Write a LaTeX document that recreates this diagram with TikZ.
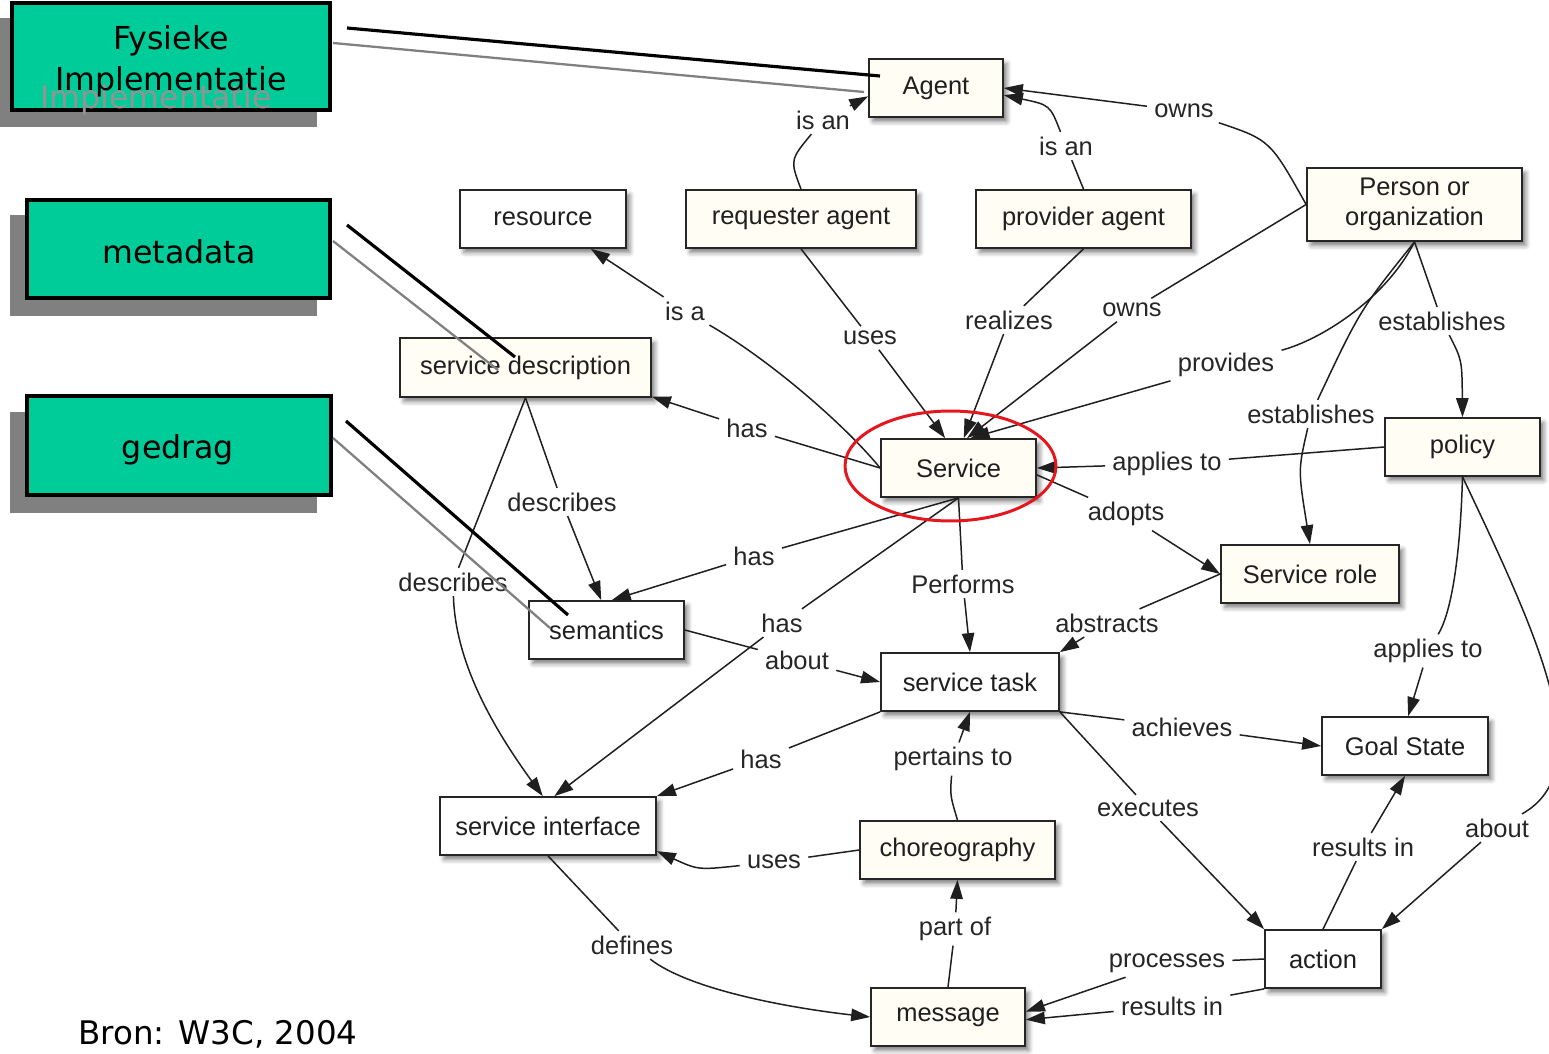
\documentclass[tikz,border=0pt]{standalone}
\usepackage{fontspec}
\setmainfont{Liberation Sans}
\newfontfamily\gfont{DejaVu Sans}
\usetikzlibrary{arrows.meta,shadows.blur,shapes.geometric}
\definecolor{cream}{RGB}{255,253,244}
\definecolor{mint}{RGB}{0,204,153}
\definecolor{shadowgray}{RGB}{128,128,128}
\definecolor{ringred}{RGB}{228,22,30}
\begin{document}
\begin{tikzpicture}[x=0.02cm,y=-0.02cm,
  box/.style={draw=black!85, line width=1pt, fill=#1, inner sep=0pt, align=center,
     font=\fontsize{14.5}{17}\selectfont, text=black!88,
     blur shadow={shadow xshift=2.2pt, shadow yshift=-2.6pt, shadow blur radius=2.6pt, shadow opacity=50}},
  box/.default=white,
  cbox/.style={box=cream},
  lab/.style={font=\fontsize{14.5}{17}\selectfont, text=black!85, inner xsep=4pt, inner ysep=2.5pt},
  ed/.style={draw=black!88, line width=0.85pt},
  ar/.style={ed, -{Triangle[length=0.38cm,width=0.25cm]}},
  gbox/.style={draw=black, line width=1.9pt, fill=mint, inner sep=0pt},
  gtxt/.style={font=\gfont\fontsize{18}{23.2}\selectfont, align=center, inner sep=0pt},
  blk/.style={draw=black, line width=1.8pt},
  gry/.style={draw=shadowgray, line width=1.3pt}
]
\useasboundingbox (0,0) rectangle (1549,1054);

% ---------- concept boxes ----------
\node[cbox, minimum width=2.68cm, minimum height=1.16cm] (agent) at (936,88) {Agent};
\node[box, minimum width=3.32cm, minimum height=1.16cm] (resource) at (543,219) {resource};
\node[cbox, minimum width=4.6cm, minimum height=1.16cm] (req) at (801,219) {requester agent};
\node[cbox, minimum width=4.3cm, minimum height=1.16cm] (prov) at (1083.5,219) {provider agent};
\node[cbox, minimum width=4.3cm, minimum height=1.46cm] (person) at (1414.5,204.5) {Person or\\organization};
\node[cbox, minimum width=5.02cm, minimum height=1.18cm] (sdesc) at (525.5,367.5) {service description};
\node[cbox, minimum width=3.1cm, minimum height=1.16cm] (service) at (958.5,468) {Service};
\node[cbox, minimum width=3.1cm, minimum height=1.16cm] (policy) at (1462.5,447) {policy};
\node[cbox, minimum width=3.56cm, minimum height=1.16cm] (srole) at (1310,574) {Service role};
\node[box, minimum width=3.1cm, minimum height=1.16cm] (sem) at (606.5,630) {semantics};
\node[box, minimum width=3.56cm, minimum height=1.16cm] (stask) at (970,682) {service task};
\node[box, minimum width=3.32cm, minimum height=1.16cm] (goal) at (1405,746) {Goal State};
\node[box, minimum width=4.32cm, minimum height=1.16cm] (sint) at (548,826) {service interface};
\node[cbox, minimum width=3.9cm, minimum height=1.16cm] (chor) at (957.5,850) {choreography};
\node[box, minimum width=2.32cm, minimum height=1.16cm] (action) at (1323,959) {action};
\node[cbox, minimum width=3.08cm, minimum height=1.16cm] (msg) at (948,1017) {message};

% ---------- connector labels ----------
\node[lab] (isan1) at (823,120) {is an};
\node[lab] (isan2) at (1066,146) {is an};
\node[lab] (owns1) at (1184,111) {owns};
\node[lab] (uses1) at (870,338) {uses};
\node[lab] (realizes) at (1009,320) {realizes};
\node[lab] (owns2) at (1132,310) {owns};
\node[lab] (provides) at (1226,365) {provides};
\node[lab] (estab1) at (1442,321) {establishes};
\node[lab] (estab2) at (1311,414) {establishes};
\node[lab] (isa) at (685,311) {is a};
\node[lab] (has1) at (747,428) {has};
\node[lab] (has2) at (754,556) {has};
\node[lab] (has3) at (782,623) {has};
\node[lab] (performs) at (963,584) {Performs};
\node[lab] (adopts) at (1126,514) {adopts};
\node[lab] (applies1) at (1167,464) {applies to};
\node[lab] (describes1) at (562,502) {describes};
\node[lab] (describes2) at (453,582) {describes};
\node[lab] (about1) at (797,660) {about};
\node[lab] (abstracts) at (1107,623) {abstracts};
\node[lab] (achieves) at (1182,727) {achieves};
\node[lab] (executes) at (1148,808) {executes};
\node[lab] (has4) at (761,759) {has};
\node[lab] (pertains) at (953,759) {pertains to};
\node[lab] (uses2) at (774,862) {uses};
\node[lab] (partof) at (955,929) {part of};
\node[lab] (defines) at (632,945) {defines};
\node[lab] (processes) at (1167,963) {processes};
\node[lab] (resultsA) at (1172,1006) {results in};
\node[lab] (resultsB) at (1363,847) {results in};
\node[lab] (applies2) at (1428,651) {applies to};
\node[lab] (about2) at (1497,828) {about};

% ---------- connectors ----------
\draw[ar] (req.north) .. controls (790,160) .. (isan1) -- (agent.187);
\draw[ar] (prov.north) -- (isan2) .. controls (1050,105) .. (agent.-6);
\draw[ar] (person.west) .. controls (1270,140) .. (owns1) -- (agent.east);
\draw[ar] (req.south) -- (uses1) -- (service.114);
\draw[ar] (prov.south) -- (realizes) -- (service.80);
\draw[ar] (person.west) -- (owns2) -- (service.74);
\draw[ar] (person.south) .. controls (1385,300) and (1320,340) .. (provides) -- (service.68);
\draw[ar] (person.south) -- (estab1) .. controls (1462,360) .. (policy.north);
\draw[ar] (person.south) .. controls (1360,310) .. (estab2) .. controls (1298,470) .. (srole.north);
\draw[ar] (service.west) .. controls (845,425) and (770,360) .. (isa) -- (resource.-32);
\draw[ar] (service.west) -- (has1) -- (sdesc.-13);
\draw[ar] (service.south) -- (has2) -- (sem.80);
\draw[ar] (service.south) -- (has3) -- (sint.78);
\draw[ar] (service.south) -- (performs) -- (stask.north);
\draw[ar] (service.-5) -- (adopts) -- (srole.west);
\draw[ar] (policy.west) -- (applies1) -- (service.east);
\draw[ar] (sdesc.south) -- (describes1) -- (sem.100);
\draw[ar] (sdesc.south) -- (describes2) .. controls (455,650) and (480,710) .. (sint.100);
\draw[ar] (sem.east) -- (about1) -- (stask.west);
\draw[ar] (srole.west) -- (abstracts) -- (stask.north east);
\draw[ar] (stask.south east) -- (achieves) -- (goal.west);
\draw[ar] (stask.south east) -- (executes) -- (action.north west);
\draw[ar] (stask.south west) -- (has4) -- (sint.north east);
\draw[ar] (chor.north) .. controls (950,795) .. (pertains) -- (stask.south);
\draw[ar] (chor.west) -- (uses2) .. controls (698,870) .. (sint.-13);
\draw[ar] (msg.north) -- (partof) -- (chor.south);
\draw[ar] (sint.south) -- (defines) .. controls (690,990) and (790,1008) .. (msg.west);
\draw[ar] (action.west) -- (processes) -- (msg.4);
\draw[ar] (action.south west) -- (resultsA) -- (msg.-2);
\draw[ar] (action.north) -- (resultsB) -- (goal.south);
\draw[ar] (policy.south) .. controls (1460,565) and (1450,615) .. (applies2) -- (goal.84);
\draw[ar] (policy.south) .. controls (1540,640) and (1600,770) .. (about2) -- (action.north east);

% ---------- red ring ----------
\node[draw=ringred, line width=1.7pt, ellipse, minimum width=4.22cm, minimum height=2.2cm, inner sep=0pt] (ring) at (950.5,466) {};

% ---------- green annotation boxes ----------
\fill[shadowgray] (0,18) rectangle (317,127);
\node[gbox, minimum width=6.36cm, minimum height=2.14cm] (gfys) at (171,56.5) {};
\node[gtxt, text=shadowgray!85, anchor=base] (ghost) at (156,109) {Implementatie};
\node[gtxt] (tfys) at (171,61) {Fysieke\\Implementatie};

\fill[shadowgray] (10,215) rectangle (317,316);
\node[gbox, minimum width=6.06cm, minimum height=1.96cm] (gmeta) at (178.5,249) {};
\node[gtxt] (tmeta) at (179,252) {metadata};

\fill[shadowgray] (10,412) rectangle (317,513);
\node[gbox, minimum width=6.08cm, minimum height=1.98cm] (gged) at (179,445.5) {};
\node[gtxt] (tged) at (178,450) {gedrag};

% ---------- pointer lines ----------
\coordinate (fb1) at (347,28);  \coordinate (fe1) at (880,76);
\coordinate (fb2) at (333,43);  \coordinate (fe2) at (864,92);
\coordinate (mb1) at (347,225); \coordinate (me1) at (515,357);
\coordinate (mb2) at (333,241); \coordinate (me2) at (498,370);
\coordinate (gb1) at (346,421); \coordinate (ge1) at (568,615);
\coordinate (gb2) at (333,438); \coordinate (ge2) at (550,628);
\draw[gry] (fb2) -- (fe2);
\draw[blk] (fb1) -- (fe1);
\draw[gry] (mb2) -- (me2);
\draw[blk] (mb1) -- (me1);
\draw[gry] (gb2) -- (ge2);
\draw[blk] (gb1) -- (ge1);

% ---------- source ----------
\node[gtxt, font=\gfont\fontsize{18.5}{22}\selectfont] (bron) at (218,1034) {Bron: W3C, 2004};
\end{tikzpicture}
\end{document}
